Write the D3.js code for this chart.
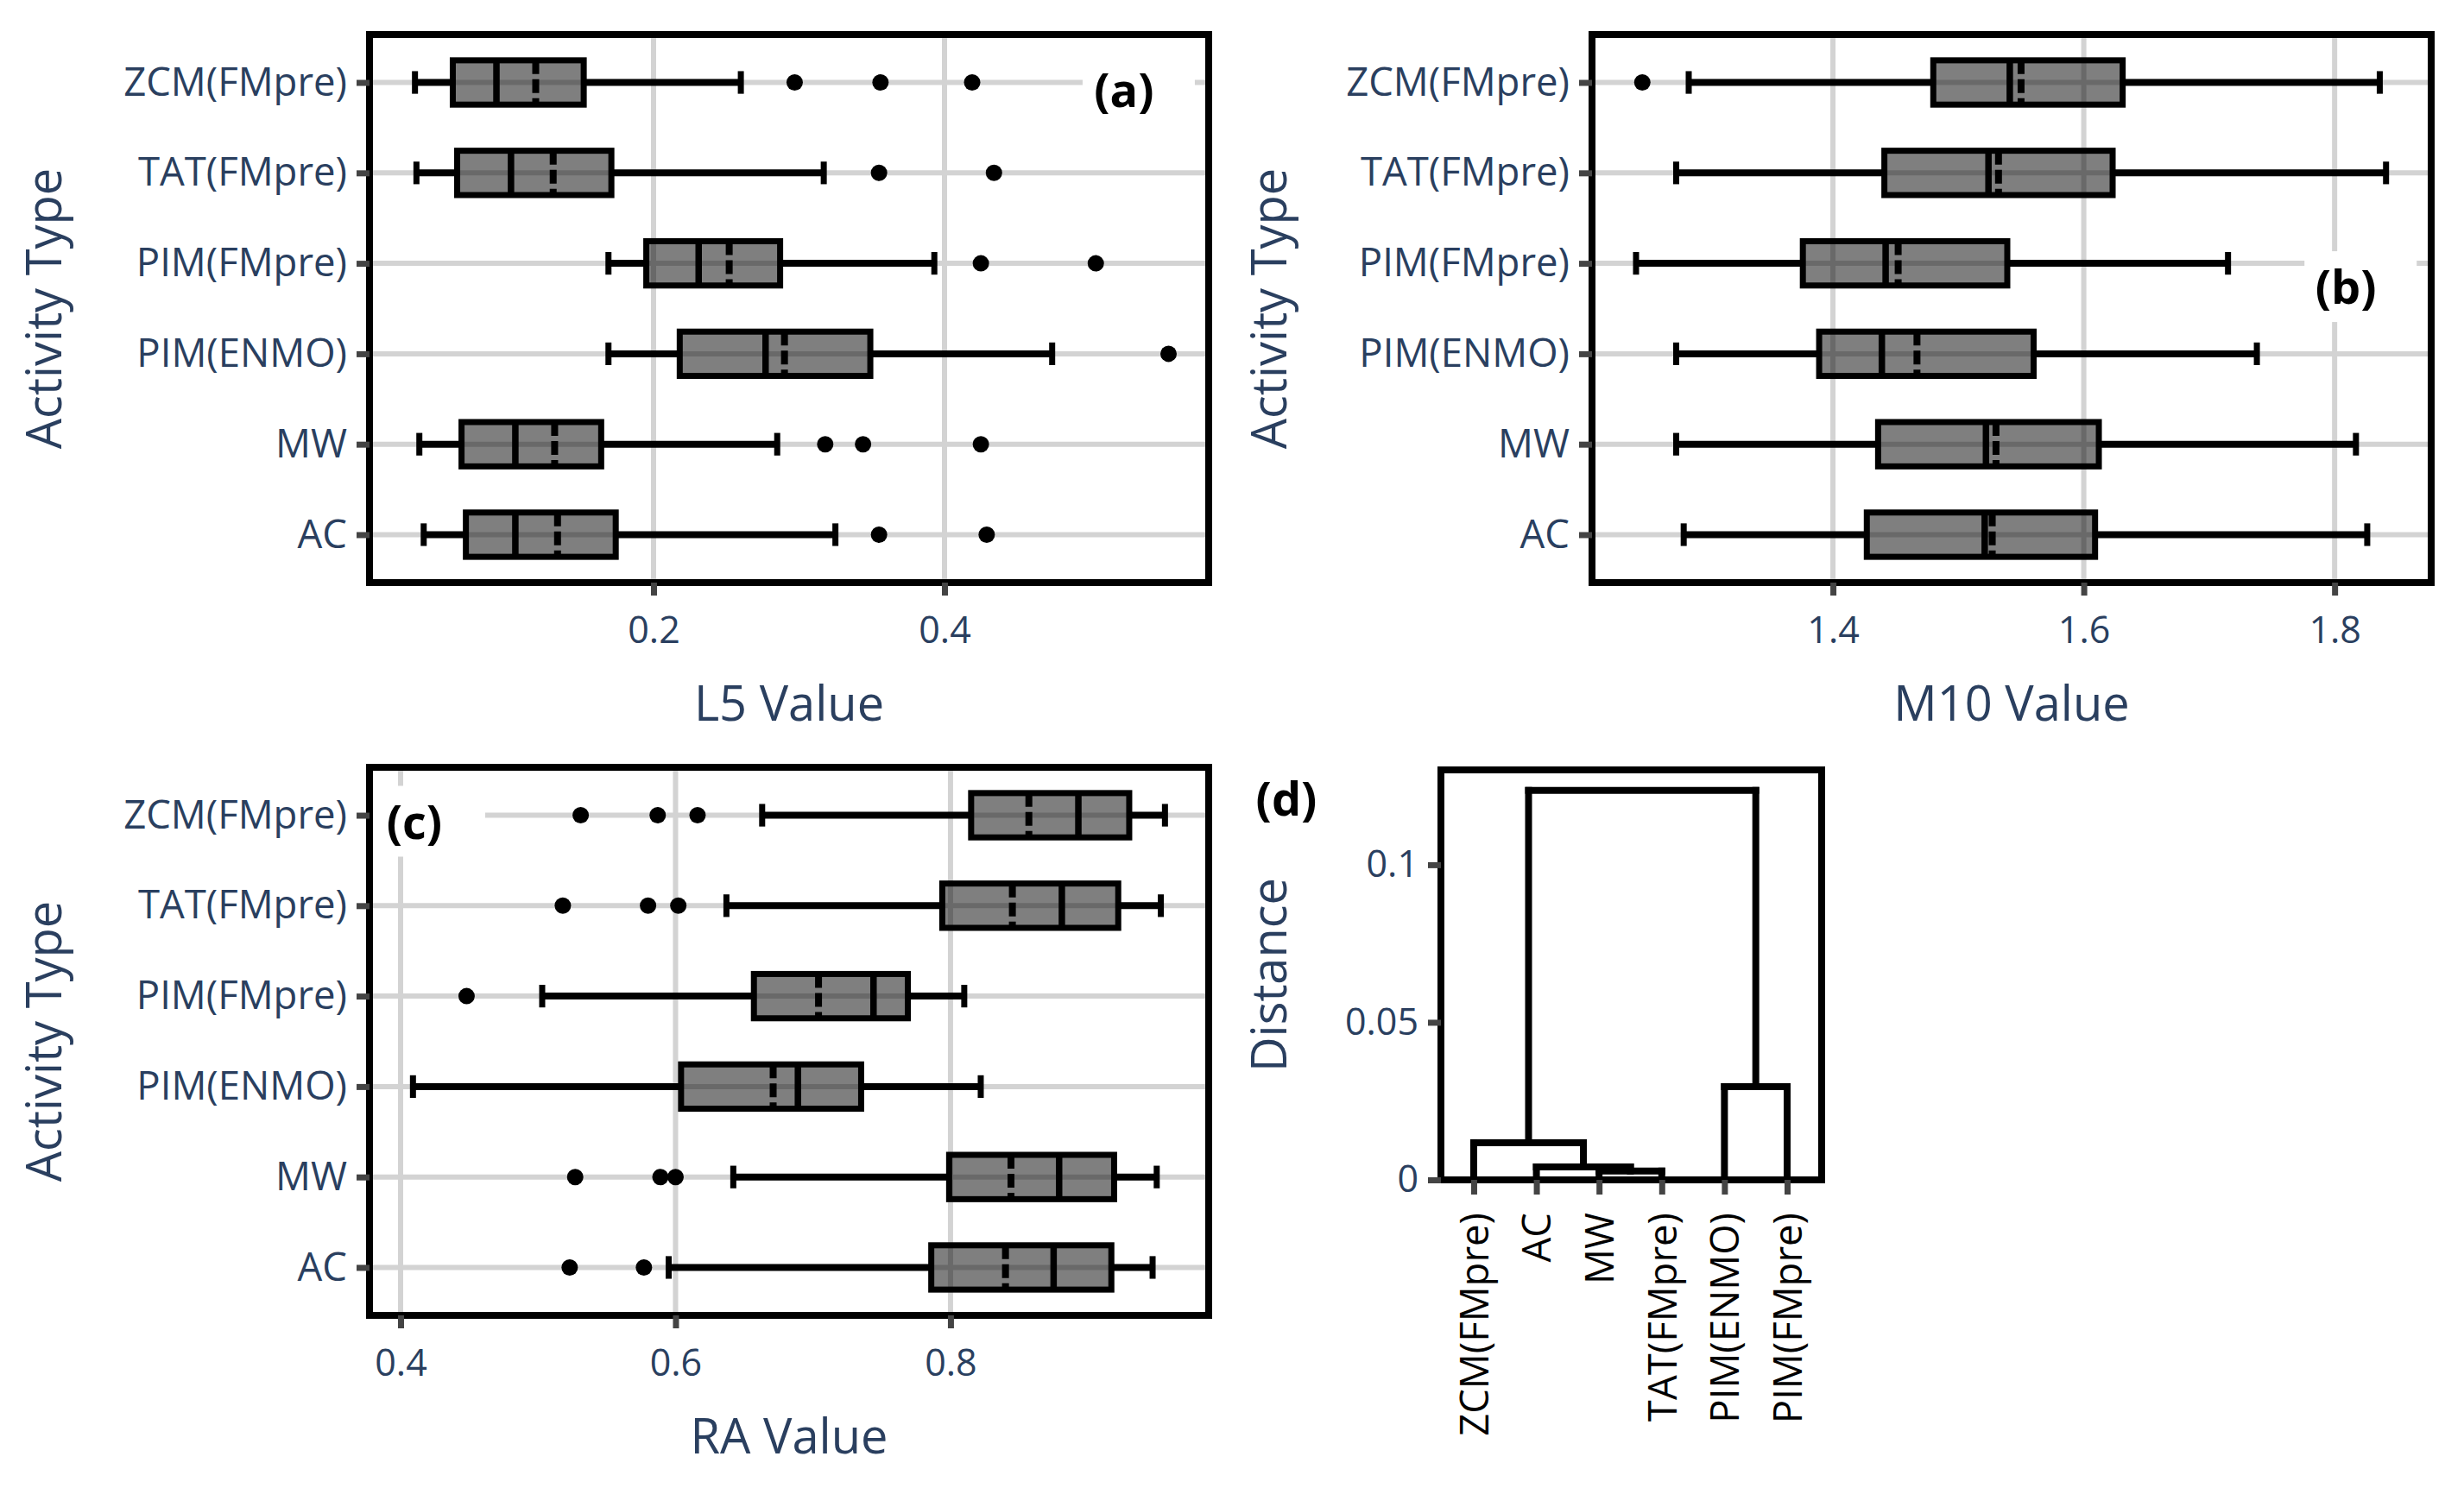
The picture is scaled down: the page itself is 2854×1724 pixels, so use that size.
<!DOCTYPE html>
<html><head><meta charset="utf-8">
<script src="https://cdn.jsdelivr.net/npm/d3@7"></script>
<style>
html,body{margin:0;padding:0;background:#fff;}
svg{display:block;}
text{font-family:"Open Sans",sans-serif;}
</style></head><body>
<svg id="chart" width="2854" height="1724"></svg>
<script>
// ---------- DATA ----------
// categories listed bottom -> top
const categories = ["AC", "MW", "PIM(ENMO)", "PIM(FMpre)", "TAT(FMpre)", "ZCM(FMpre)"];

// (a) L5
const l5Low    = [0.042, 0.039, 0.169, 0.169, 0.037, 0.036];
const l5Q1     = [0.071, 0.068, 0.218, 0.195, 0.065, 0.062];
const l5Median = [0.105, 0.105, 0.277, 0.231, 0.102, 0.092];
const l5Mean   = [0.134, 0.132, 0.290, 0.252, 0.131, 0.119];
const l5Q3     = [0.174, 0.164, 0.349, 0.287, 0.171, 0.152];
const l5High   = [0.325, 0.285, 0.474, 0.393, 0.317, 0.260];
const l5Outliers = [[0.355, 0.429], [0.318, 0.344, 0.425], [0.554], [0.425, 0.504], [0.355, 0.434], [0.297, 0.356, 0.419]];
const l5Ticks = [0.2, 0.4];

// (b) M10
const m10Low    = [1.281, 1.275, 1.275, 1.243, 1.275, 1.285];
const m10Q1     = [1.427, 1.436, 1.389, 1.376, 1.441, 1.480];
const m10Median = [1.521, 1.522, 1.439, 1.442, 1.524, 1.541];
const m10Mean   = [1.527, 1.530, 1.467, 1.452, 1.532, 1.550];
const m10Q3     = [1.609, 1.612, 1.560, 1.539, 1.623, 1.631];
const m10High   = [1.826, 1.817, 1.738, 1.715, 1.841, 1.836];
const m10Outliers = [[], [], [], [], [], [1.248]];
const m10Ticks = [1.4, 1.6, 1.8];

// (c) RA
const raLow    = [0.595, 0.642, 0.409, 0.503, 0.637, 0.663];
const raQ1     = [0.786, 0.799, 0.604, 0.657, 0.794, 0.815];
const raMedian = [0.875, 0.879, 0.689, 0.744, 0.881, 0.893];
const raMean   = [0.840, 0.844, 0.671, 0.704, 0.845, 0.857];
const raQ3     = [0.917, 0.919, 0.735, 0.769, 0.922, 0.930];
const raHigh   = [0.947, 0.950, 0.822, 0.810, 0.953, 0.956];
const raOutliers = [[0.523, 0.577], [0.527, 0.589, 0.600], [], [0.448], [0.518, 0.580, 0.602], [0.531, 0.587, 0.616]];
const raTicks = [0.4, 0.6, 0.8];

// (d) dendrogram (leaves in plotting order, hclust-style merges)
const leafLabels = ["ZCM(FMpre)", "AC", "MW", "TAT(FMpre)", "PIM(ENMO)", "PIM(FMpre)"];
const mergePairs = [[-3, -4], [-2, 1], [-1, 2], [-5, -6], [3, 4]];
const mergeHeights = [0.0028, 0.0041, 0.0118, 0.0296, 0.1236];
const distTicks = [0, 0.05, 0.1];
const distTickLabels = ["0", "0.05", "0.1"];

// ---------- STYLE ----------
const NAVY = "#2a3f5f", GRID = "#d3d3d3", TICK = "#444444";
const TICK_FS = 43, CAT_FS = 45.5, TITLE_FS = 56, TAG_FS = 54;
const svg = d3.select("#chart");
svg.append("rect").attr("width", 2854).attr("height", 1724).attr("fill", "#fff");

function styleAxis(ax, fs) {
  ax.select(".domain").remove();
  ax.attr("font-family", "Open Sans").attr("font-size", fs);
  ax.selectAll(".tick line").attr("stroke", TICK).attr("stroke-width", 7);
  ax.selectAll(".tick text").attr("fill", NAVY);
}

function boxPanel(cfg) {
  const g = svg.append("g");
  const x = d3.scaleLinear().domain(cfg.domain).range([cfg.left, cfg.right]);
  const y = d3.scaleLinear().domain([0.47, 6.53]).range([cfg.bottom, cfg.top]);
  const idx = d3.range(categories.length);
  // grid
  g.selectAll(".vg").data(cfg.ticks).join("line")
    .attr("x1", d => x(d)).attr("x2", d => x(d)).attr("y1", cfg.top).attr("y2", cfg.bottom)
    .attr("stroke", GRID).attr("stroke-width", 6);
  g.selectAll(".hg").data(idx).join("line")
    .attr("x1", cfg.left).attr("x2", cfg.right).attr("y1", i => y(i + 1)).attr("y2", i => y(i + 1))
    .attr("stroke", GRID).attr("stroke-width", 6);
  const half = y(0) - y(0.245), cap = y(0) - y(0.125);
  const s = cfg.stats;
  idx.forEach(i => {
    const yc = y(i + 1);
    // whiskers
    g.append("line").attr("x1", x(s.low[i])).attr("x2", x(s.q1[i])).attr("y1", yc).attr("y2", yc)
      .attr("stroke", "#000").attr("stroke-width", 8);
    g.append("line").attr("x1", x(s.q3[i])).attr("x2", x(s.high[i])).attr("y1", yc).attr("y2", yc)
      .attr("stroke", "#000").attr("stroke-width", 8);
    [s.low[i], s.high[i]].forEach(v => {
      g.append("line").attr("x1", x(v)).attr("x2", x(v)).attr("y1", yc - cap).attr("y2", yc + cap)
        .attr("stroke", "#000").attr("stroke-width", 7);
    });
    // box
    g.append("rect").attr("x", x(s.q1[i])).attr("y", yc - half)
      .attr("width", x(s.q3[i]) - x(s.q1[i])).attr("height", 2 * half)
      .attr("fill", "rgba(0,0,0,0.5)").attr("stroke", "#000").attr("stroke-width", 7);
    g.append("line").attr("x1", x(s.median[i])).attr("x2", x(s.median[i]))
      .attr("y1", yc - half).attr("y2", yc + half).attr("stroke", "#000").attr("stroke-width", 7.5);
    g.append("line").attr("x1", x(s.mean[i])).attr("x2", x(s.mean[i]))
      .attr("y1", yc - half).attr("y2", yc + half).attr("stroke", "#000").attr("stroke-width", 8)
      .attr("stroke-dasharray", "16,6");
    // outliers
    g.selectAll(null).data(s.out[i]).join("circle")
      .attr("cx", d => x(d)).attr("cy", yc).attr("r", 9.5).attr("fill", "#000");
  });
  // tag label with white box
  const lx = x(cfg.tag.x), lc = y(cfg.tag.y);
  g.append("rect").attr("x", Math.max(cfg.left, lx - 48)).attr("y", lc - 42)
    .attr("width", lx + 82 - Math.max(cfg.left, lx - 48)).attr("height", 82).attr("fill", "#fff");
  g.append("text").attr("x", lx).attr("y", lc + 19).attr("text-anchor", "middle")
    .attr("font-weight", "bold").attr("font-size", TAG_FS).attr("fill", "#000").text(cfg.tag.text);
  // border
  g.append("rect").attr("x", cfg.left).attr("y", cfg.top)
    .attr("width", cfg.right - cfg.left).attr("height", cfg.bottom - cfg.top)
    .attr("fill", "none").attr("stroke", "#000").attr("stroke-width", 8);
  // axes
  const ay = g.append("g").attr("transform", `translate(${cfg.left},0)`)
    .call(d3.axisLeft(y).tickValues(idx.map(i => i + 1)).tickFormat(d => categories[d - 1])
      .tickSize(15).tickPadding(11));
  styleAxis(ay, CAT_FS);
  const ax = g.append("g").attr("transform", `translate(0,${cfg.bottom})`)
    .call(d3.axisBottom(x).tickValues(cfg.ticks).tickFormat(d3.format(".1f"))
      .tickSize(15).tickPadding(24));
  styleAxis(ax, TICK_FS);
  // titles
  g.append("text").attr("x", (cfg.left + cfg.right) / 2).attr("y", cfg.bottom + 160)
    .attr("text-anchor", "middle").attr("font-size", TITLE_FS).attr("fill", NAVY).text(cfg.xTitle);
  g.append("text").attr("transform", `translate(${cfg.yTitleX},${(cfg.top + cfg.bottom) / 2}) rotate(-90)`)
    .attr("text-anchor", "middle").attr("font-size", TITLE_FS).attr("fill", NAVY).text("Activity Type");
}

boxPanel({left: 428, right: 1400, top: 40, bottom: 675, domain: [0.00475, 0.5816], ticks: l5Ticks,
  stats: {low: l5Low, q1: l5Q1, median: l5Median, mean: l5Mean, q3: l5Q3, high: l5High, out: l5Outliers},
  tag: {text: "(a)", x: 0.5234, y: 5.914}, xTitle: "L5 Value", yTitleX: 71});
boxPanel({left: 1844, right: 2816, top: 40, bottom: 675, domain: [1.2079, 1.877], ticks: m10Ticks,
  stats: {low: m10Low, q1: m10Q1, median: m10Median, mean: m10Mean, q3: m10Q3, high: m10High, out: m10Outliers},
  tag: {text: "(b)", x: 1.809, y: 3.733}, xTitle: "M10 Value", yTitleX: 1490});
boxPanel({left: 428, right: 1400, top: 889, bottom: 1524, domain: [0.3774, 0.9878], ticks: raTicks,
  stats: {low: raLow, q1: raQ1, median: raMedian, mean: raMean, q3: raQ3, high: raHigh, out: raOutliers},
  tag: {text: "(c)", x: 0.410, y: 5.924}, xTitle: "RA Value", yTitleX: 71});

// ---------- (d) dendrogram ----------
(function () {
  const L = 1669, R = 2110, T = 892, B = 1367;
  const x = d3.scaleLinear().domain([0.477, 6.551]).range([L, R]);
  const y = d3.scaleLinear().domain([0, 0.1301]).range([B, T]);
  const g = svg.append("g");
  const nodes = [];
  const pos = k => k < 0 ? {x: -k, h: 0} : nodes[k - 1];
  const segs = [];
  mergePairs.forEach((p, j) => {
    const a = pos(p[0]), b = pos(p[1]), h = mergeHeights[j];
    nodes.push({x: (a.x + b.x) / 2, h});
    segs.push([a.x, a.h, a.x, h], [a.x, h, b.x, h], [b.x, h, b.x, b.h]);
  });
  g.selectAll(".seg").data(segs).join("line")
    .attr("x1", d => x(d[0])).attr("y1", d => y(d[1])).attr("x2", d => x(d[2])).attr("y2", d => y(d[3]))
    .attr("stroke", "#000").attr("stroke-width", 8).attr("stroke-linecap", "square");
  g.append("rect").attr("x", L).attr("y", T).attr("width", R - L).attr("height", B - T)
    .attr("fill", "none").attr("stroke", "#000").attr("stroke-width", 8);
  const ay = g.append("g").attr("transform", `translate(${L},0)`)
    .call(d3.axisLeft(y).tickValues(distTicks).tickFormat((d, i) => distTickLabels[i]).tickSize(15).tickPadding(11));
  styleAxis(ay, TICK_FS);
  const ax = g.append("g").attr("transform", `translate(0,${B})`)
    .call(d3.axisBottom(x).tickValues(d3.range(1, leafLabels.length + 1)).tickFormat(d => leafLabels[d - 1]).tickSize(17));
  styleAxis(ax, CAT_FS);
  ax.selectAll(".tick text").attr("transform", "rotate(-90)").attr("x", -38).attr("y", 0)
    .attr("dy", "0.36em").attr("text-anchor", "end").attr("fill", "#000");
  g.append("text").attr("transform", `translate(1490,${(T + B) / 2}) rotate(-90)`)
    .attr("text-anchor", "middle").attr("font-size", TITLE_FS).attr("fill", NAVY).text("Distance");
  g.append("text").attr("x", 1490).attr("y", 945).attr("text-anchor", "middle")
    .attr("font-weight", "bold").attr("font-size", TAG_FS).attr("fill", "#000").text("(d)");
})();
</script>
</body></html>
